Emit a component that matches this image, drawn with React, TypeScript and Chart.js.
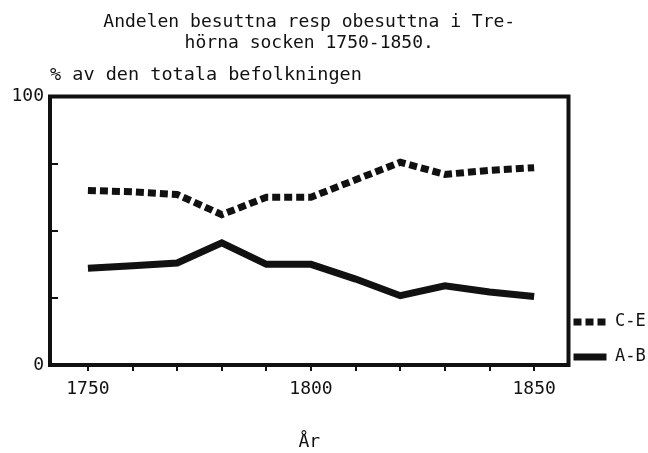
import React, { useEffect, useRef } from 'react';
import { Chart, registerables } from 'chart.js';

Chart.register(...registerables);

// ---- data ----
const years = [1750, 1760, 1770, 1780, 1790, 1800, 1810, 1820, 1830, 1840, 1850];
const ceValues = [65, 64.5, 63.5, 56, 62.5, 62.5, 69, 75.5, 71, 72.5, 73.5];
const abValues = [36, 37, 38, 45.5, 37.5, 37.5, 32, 25.8, 29.5, 27.2, 25.5];
const seriesLabels = ['C-E', 'A-B'];
const titleLines = ['Andelen besuttna resp obesuttna i Tre-', 'hörna socken 1750-1850.'];
const yAxisLabel = '% av den totala befolkningen';
const xAxisLabel = 'År';
const xTickLabels = [1750, 1800, 1850];
const yTickLabels = [0, 100];

const INK = '#111111';
const FONT = "'DejaVu Sans Mono', 'Liberation Mono', monospace";

const framePlugin = {
  id: 'frame',
  beforeDatasetsDraw(chart: any) {
    const { ctx, chartArea: a } = chart;
    ctx.save();
    ctx.strokeStyle = INK;
    ctx.lineWidth = 4;
    ctx.setLineDash([]);
    ctx.beginPath();
    ctx.moveTo(a.left - 2, a.top);
    ctx.lineTo(a.right, a.top);
    ctx.lineTo(a.right, a.bottom + 2);
    ctx.stroke();
    ctx.restore();
  },
};

export default function App() {
  const ref = useRef<HTMLCanvasElement>(null);

  useEffect(() => {
    const canvas = ref.current;
    if (!canvas) return;
    Chart.defaults.font.family = FONT;
    Chart.defaults.color = INK;
    const defaultLabels = (Chart.defaults.plugins.legend.labels as any).generateLabels;

    const chart = new Chart(canvas, {
      type: 'line',
      data: {
        datasets: [
          {
            label: seriesLabels[0],
            data: years.map((x, i) => ({ x, y: ceValues[i] })),
            borderColor: INK,
            backgroundColor: INK,
            borderWidth: 7,
            borderDash: [8, 4],
            pointRadius: 0,
            tension: 0,
            fill: false,
          },
          {
            label: seriesLabels[1],
            data: years.map((x, i) => ({ x, y: abValues[i] })),
            borderColor: INK,
            backgroundColor: INK,
            borderWidth: 7,
            pointRadius: 0,
            tension: 0,
            fill: false,
          },
        ],
      },
      options: {
        responsive: true,
        maintainAspectRatio: false,
        animation: false,
        layout: { padding: { left: 0, top: 0, bottom: 0, right: -7.7 } },
        scales: {
          x: {
            type: 'linear',
            min: 1741.5,
            max: 1857.7,
            afterFit(s: any) {
              s.height = 88;
            },
            border: { display: true, color: INK, width: 4 },
            grid: { drawOnChartArea: false, drawTicks: true, tickLength: 6, color: INK, lineWidth: 2 },
            ticks: {
              stepSize: 10,
              includeBounds: false,
              autoSkip: false,
              maxRotation: 0,
              padding: 8,
              color: INK,
              font: { size: 18 },
              callback: (v: any) => (xTickLabels.includes(Number(v)) ? String(v) : ''),
            },
            title: {
              display: true,
              text: xAxisLabel,
              color: INK,
              font: { size: 18 },
              padding: { top: 30, bottom: 0 },
            },
          },
          y: {
            type: 'linear',
            min: 0,
            max: 100,
            afterFit(s: any) {
              s.width = 50;
            },
            border: { display: true, color: INK, width: 4 },
            grid: { drawOnChartArea: false, drawTicks: true, tickLength: -8, color: INK, lineWidth: 2 },
            ticks: {
              stepSize: 25,
              padding: 14,
              color: INK,
              font: { size: 18 },
              callback: (v: any) => (yTickLabels.includes(Number(v)) ? String(v) : ''),
            },
          },
        },
        plugins: {
          legend: {
            display: true,
            position: 'right',
            align: 'start',
            fullSize: true,
            title: {
              display: true,
              text: ' ',
              font: { size: 10, lineHeight: '10px' },
              padding: { top: 298.5, bottom: 0 },
            },
            labels: {
              usePointStyle: true,
              pointStyle: 'line',
              pointStyleWidth: 33,
              padding: 5,
              color: INK,
              font: { size: 17, lineHeight: '30px' },
              generateLabels: (c: any) =>
                defaultLabels(c).map((it: any) => {
                  const ds = c.data.datasets[it.datasetIndex];
                  return {
                    ...it,
                    text: [it.text],
                    lineWidth: ds.borderWidth,
                    lineDash: ds.borderDash || [],
                    lineDashOffset: 0,
                    lineCap: 'butt',
                  };
                }),
            },
          },
          title: {
            display: true,
            text: titleLines,
            color: INK,
            fullSize: false,
            font: { size: 18, weight: 'normal', lineHeight: '21px' },
            padding: { top: 12, bottom: 0 },
          },
          subtitle: {
            display: true,
            text: yAxisLabel,
            color: INK,
            align: 'start',
            fullSize: false,
            font: { size: 18.5, weight: 'normal', lineHeight: '22px' },
            padding: { top: 10, bottom: 10.5 },
          },
          tooltip: { enabled: false },
        },
      } as any,
      plugins: [framePlugin],
    });
    return () => chart.destroy();
  }, []);

  return (
    <div style={{ position: 'absolute', left: 0, top: 0, width: 648, height: 453 }}>
      <canvas ref={ref} />
    </div>
  );
}
